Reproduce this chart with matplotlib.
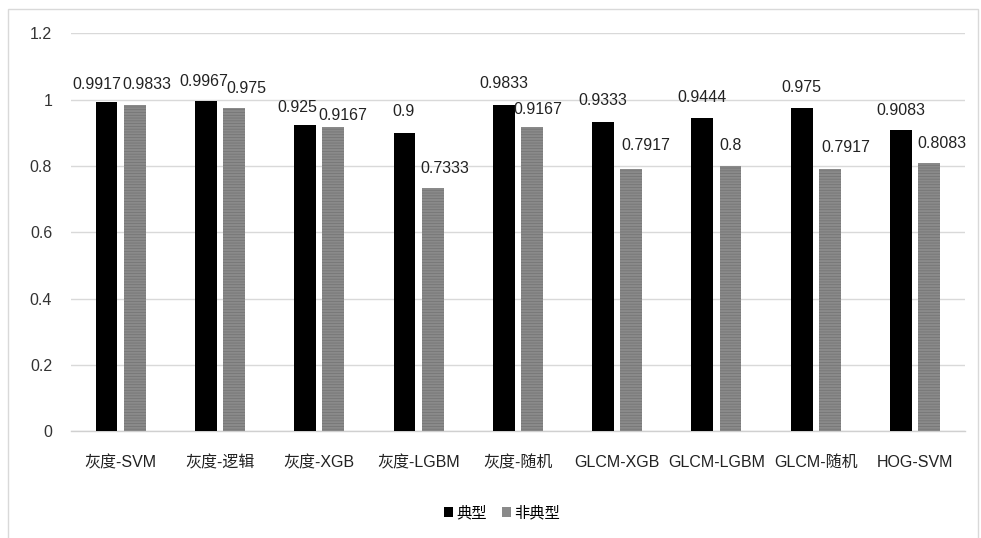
import matplotlib
matplotlib.use("Agg")
import matplotlib.pyplot as plt
from matplotlib.patches import Patch, Rectangle
import numpy as np

plt.rcParams['font.family'] = ['Liberation Sans', 'Noto Sans CJK SC', 'DejaVu Sans']
plt.rcParams['hatch.linewidth'] = 0.5

categories = ["灰度-SVM", "灰度-逻辑", "灰度-XGB", "灰度-LGBM", "灰度-随机",
              "GLCM-XGB", "GLCM-LGBM", "GLCM-随机", "HOG-SVM"]
typical = [0.9917, 0.9967, 0.925, 0.9, 0.9833, 0.9333, 0.9444, 0.975, 0.9083]
atypical = [0.9833, 0.975, 0.9167, 0.7333, 0.9167, 0.7917, 0.8, 0.7917, 0.8083]
typical_labels = ["0.9917", "0.9967", "0.925", "0.9", "0.9833", "0.9333", "0.9444", "0.975", "0.9083"]
atypical_labels = ["0.9833", "0.975", "0.9167", "0.7333", "0.9167", "0.7917", "0.8", "0.7917", "0.8083"]
series_names = ["典型", "非典型"]
yticks = [0, 0.2, 0.4, 0.6, 0.8, 1.0, 1.2]
ytick_labels = ["0", "0.2", "0.4", "0.6", "0.8", "1", "1.2"]

# label nudges in pixels (dx, dy above the bar top)
typical_nudge = [(-10, 18), (-2, 19), (-8, 17), (-1, 21), (0, 22), (0, 21), (0, 21), (0, 20), (0, 20)]
atypical_nudge = [(12, 21), (12, 19), (9, 12), (12, 20), (6, 18), (15, 23), (0, 20), (16, 21), (13, 20)]

W, H, DPI = 981, 538, 100
fig = plt.figure(figsize=(W / DPI, H / DPI), dpi=DPI)

# light frame around the chart area
fig.patches.append(Rectangle((7.5 / W, -0.01), (978 - 7.5) / W, 1 - 8.5 / H + 0.01,
                             transform=fig.transFigure, fill=False,
                             edgecolor='#d9d9d9', linewidth=1.0))

ax = fig.add_axes([71 / W, (H - 431.3) / H, 893.7 / W, 398 / H])

x = np.arange(len(categories))
bw = 0.22
off = 0.142
ax.bar(x - off, typical, bw, color='black', zorder=3)
ax.bar(x + off, atypical, bw, color='#8a8a8a', edgecolor='#727272',
       linewidth=0, hatch='------', zorder=3)

ax.set_xlim(-0.5, len(categories) - 0.5)
ax.set_ylim(0, 1.2)
ax.set_yticks(yticks)
ax.set_yticklabels(ytick_labels, fontsize=11.5, color='#333333')
ax.set_xticks(x)
ax.set_xticklabels(categories, fontsize=11.5, color='#222222')
ax.tick_params(axis='both', length=0)
ax.tick_params(axis='y', pad=13.5)
ax.tick_params(axis='x', pad=17)

ax.grid(axis='y', color='#d9d9d9', linewidth=1.0, zorder=0)
for s in ['top', 'right', 'left']:
    ax.spines[s].set_visible(False)
ax.spines['bottom'].set_color('#d0d0d0')
ax.spines['bottom'].set_linewidth(1.0)

pt = 72 / DPI
for i in range(len(categories)):
    dx, dy = typical_nudge[i]
    ax.annotate(typical_labels[i], (x[i] - off, typical[i]),
                xytext=(dx * pt, dy * pt), textcoords='offset points',
                ha='center', va='center', fontsize=11.5, color='#222222')
    dx, dy = atypical_nudge[i]
    ax.annotate(atypical_labels[i], (x[i] + off, atypical[i]),
                xytext=(dx * pt, dy * pt), textcoords='offset points',
                ha='center', va='center', fontsize=11.5, color='#222222')

handles = [Patch(facecolor='black', edgecolor='none'),
           Patch(facecolor='#8a8a8a', edgecolor='none')]
fig.legend(handles, series_names, loc='center', bbox_to_anchor=(502 / W, 1 - 513 / H),
           ncol=2, frameon=False, fontsize=11, handlelength=0.6, handleheight=0.6,
           handletextpad=0.2, columnspacing=1.0)

fig.savefig("out.png", dpi=DPI)
